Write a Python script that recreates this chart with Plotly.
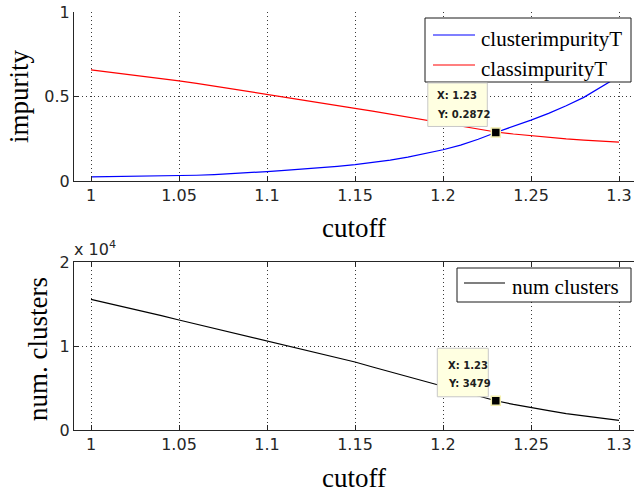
import plotly.graph_objects as go

# cutoff sweep
cutoff = [1.00, 1.01, 1.02, 1.03, 1.04, 1.05, 1.06, 1.07, 1.08, 1.09, 1.10,
          1.11, 1.12, 1.13, 1.14, 1.15, 1.16, 1.17, 1.18, 1.19, 1.20,
          1.21, 1.22, 1.23, 1.24, 1.25, 1.26, 1.27, 1.28, 1.29, 1.30]

cluster_impurity = [0.024, 0.025, 0.026, 0.027, 0.029, 0.031, 0.034, 0.038, 0.043, 0.049, 0.056,
                    0.063, 0.070, 0.078, 0.087, 0.097, 0.109, 0.124, 0.141, 0.162, 0.185,
                    0.212, 0.247, 0.2872, 0.322, 0.360, 0.400, 0.445, 0.495, 0.555, 0.620]

class_impurity = [0.657, 0.645, 0.632, 0.620, 0.607, 0.593, 0.578, 0.562, 0.545, 0.529, 0.513,
                  0.497, 0.481, 0.464, 0.447, 0.430, 0.413, 0.395, 0.378, 0.360, 0.343,
                  0.323, 0.305, 0.290, 0.278, 0.267, 0.259, 0.249, 0.242, 0.236, 0.230]

num_clusters = [15550, 15080, 14600, 14120, 13620, 13100, 12600, 12100, 11590, 11080, 10570,
                10080, 9580, 9080, 8590, 8100, 7500, 6920, 6340, 5760, 5180,
                4620, 4050, 3479, 3050, 2650, 2300, 1960, 1670, 1400, 1150]

x_ticks = [1.00, 1.05, 1.10, 1.15, 1.20, 1.25, 1.30]
x_ticktext = ["1", "1.05", "1.1", "1.15", "1.2", "1.25", "1.3"]
imp_ticks = [0, 0.5, 1]
imp_ticktext = ["0", "0.5", "1"]
nc_ticks = [0, 10000, 20000]
nc_ticktext = ["0", "1", "2"]

top_names = ["clusterimpurityT", "classimpurityT"]
top_colors = ["#0000ff", "#ff0000"]
bottom_name = "num clusters"

# data tip location
tip_x = 1.23
tip_i = cutoff.index(tip_x)

W, H = 634, 492
AX_LEFT = 74
X0_PX = 91.0            # pixel of cutoff = 1
PX_PER_UNIT = 1760.0    # pixels per cutoff unit

def py(p):  # pixel row -> paper fraction
    return 1 - p / H

def px(p):
    return p / W

TICK_FONT = dict(family="DejaVu Sans", size=16, color="#262626")
GRID = dict(showgrid=True, gridcolor="#3a3a3a", griddash="1px,3px", gridwidth=1)
LINE = dict(showline=True, linecolor="#262626", linewidth=1, zeroline=False, automargin=False,
            ticks="inside", ticklen=5, tickwidth=1, tickcolor="#262626")

fig = go.Figure()

fig.add_trace(go.Scatter(x=cutoff, y=cluster_impurity, mode="lines", name=top_names[0],
                         line=dict(color=top_colors[0], width=1.2), xaxis="x", yaxis="y"))
fig.add_trace(go.Scatter(x=cutoff, y=class_impurity, mode="lines", name=top_names[1],
                         line=dict(color=top_colors[1], width=1.2), xaxis="x", yaxis="y"))
fig.add_trace(go.Scatter(x=cutoff, y=num_clusters, mode="lines", name=bottom_name,
                         line=dict(color="#000000", width=1.2), xaxis="x2", yaxis="y2"))

# data tip markers
for xa, ya, yv in (("x", "y", cluster_impurity[tip_i]), ("x2", "y2", num_clusters[tip_i])):
    fig.add_trace(go.Scatter(x=[cutoff[tip_i]], y=[yv], mode="markers",
                             marker=dict(symbol="square", size=9, color="black",
                                         line=dict(color="#f3efb0", width=1.5)),
                             xaxis=xa, yaxis=ya, showlegend=False, hoverinfo="skip"))

x_range = [1 - (X0_PX - AX_LEFT) / PX_PER_UNIT, 1 + (W - X0_PX) / PX_PER_UNIT]

xcommon = dict(range=x_range, tickvals=x_ticks, ticktext=x_ticktext, tickfont=TICK_FONT,
               domain=[px(AX_LEFT), 1], **GRID, **LINE)

fig.update_layout(
    width=W, height=H,
    margin=dict(l=0, r=0, t=0, b=0, autoexpand=False),
    paper_bgcolor="white", plot_bgcolor="white",
    showlegend=False,
    xaxis=dict(anchor="y", mirror=False, **xcommon),
    yaxis=dict(anchor="x", domain=[py(181), py(12)], range=[0, 1], tickvals=imp_ticks,
               ticktext=imp_ticktext, tickfont=TICK_FONT, **GRID, **LINE),
    xaxis2=dict(anchor="y2", mirror="ticks", **xcommon),
    yaxis2=dict(anchor="x2", domain=[py(430), py(262)], range=[0, 20000], tickvals=nc_ticks,
                ticktext=nc_ticktext, tickfont=TICK_FONT, **GRID, **LINE),
)

TITLE_FONT = dict(family="Liberation Serif", size=27, color="black")
LEG_FONT = dict(family="Liberation Serif", size=21, color="black")
annotations = [
    dict(text="impurity", x=px(19), y=py(97), xref="paper", yref="paper", textangle=-90,
         showarrow=False, xanchor="center", yanchor="middle", font=TITLE_FONT),
    dict(text="num. clusters", x=px(38), y=py(349), xref="paper", yref="paper", textangle=-90,
         showarrow=False, xanchor="center", yanchor="middle", font=TITLE_FONT),
    dict(text="cutoff", x=px(354), y=py(228), xref="paper", yref="paper",
         showarrow=False, xanchor="center", yanchor="middle", font=TITLE_FONT),
    dict(text="cutoff", x=px(354), y=py(478), xref="paper", yref="paper",
         showarrow=False, xanchor="center", yanchor="middle", font=TITLE_FONT),
    dict(text="x 10<sup>4</sup>", x=px(72), y=py(261), xref="paper", yref="paper",
         showarrow=False, xanchor="left", yanchor="bottom",
         font=dict(family="DejaVu Sans", size=16, color="#262626")),
]
shapes = []

# legend boxes drawn in page coordinates
def add_legend(box, entries):
    l, r, t, b = box
    shapes.append(dict(type="rect", xref="paper", yref="paper",
                       x0=px(l), x1=px(r), y0=py(b), y1=py(t),
                       fillcolor="white", line=dict(color="#1a1a1a", width=1), layer="above"))
    for name, color, (lx0, lx1, ly, tx, ty) in entries:
        shapes.append(dict(type="line", xref="paper", yref="paper",
                           x0=px(lx0), x1=px(lx1), y0=py(ly), y1=py(ly),
                           line=dict(color=color, width=1.2), layer="above"))
        annotations.append(dict(text=name, x=px(tx), y=py(ty), xref="paper", yref="paper",
                                showarrow=False, xanchor="left", yanchor="middle", font=LEG_FONT))

add_legend((425, 631, 18, 82),
           [(top_names[0], top_colors[0], (433, 475, 35, 479, 39)),
            (top_names[1], top_colors[1], (433, 475, 65, 479, 69))])
add_legend((457, 631, 268, 302),
           [(bottom_name, "#000000", (464, 505, 283, 510, 287))])

TIP_FONT = dict(family="DejaVu Sans", size=10, color="#202020")

def add_tip(xref, yref, xv, yv, ylabel, box, rows):
    # box: (left, right, bottom, top) pixel offsets from the tip point, up positive
    l, r, b, t = box
    shapes.append(dict(type="rect", xref=xref, yref=yref, xsizemode="pixel", ysizemode="pixel",
                       xanchor=xv, yanchor=yv, x0=l, x1=r, y0=b, y1=t,
                       fillcolor="#ffffe1", line=dict(color="#c8c8c8", width=1), layer="above"))
    texts = [f"X: {xv:g}", f"Y: {ylabel}"]
    for txt, (dx, dy) in zip(texts, rows):
        annotations.append(dict(text=f"<b>{txt}</b>", x=xv, y=yv, xref=xref, yref=yref,
                                showarrow=False, xanchor="left", yanchor="middle",
                                xshift=dx, yshift=dy, font=TIP_FONT))

add_tip("x", "y", cutoff[tip_i], cluster_impurity[tip_i], f"{cluster_impurity[tip_i]:g}",
        (-68, -8.5, 6, 49.5), [(-61, 36.5), (-61, 17.5)])
add_tip("x2", "y2", cutoff[tip_i], num_clusters[tip_i], f"{num_clusters[tip_i]:d}",
        (-58.5, -7.5, 4, 52.5), [(-50, 35), (-50, 17)])

fig.update_layout(annotations=annotations, shapes=shapes)

fig.write_html("out.html")
